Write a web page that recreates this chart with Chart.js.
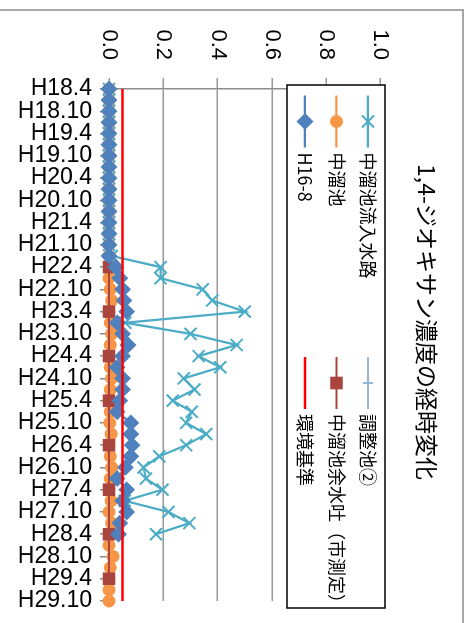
<!DOCTYPE html>
<html lang="ja">

<head>
    <meta charset="UTF-8">
    <title>1,4-ジオキサン濃度の経時変化</title>
    <script src="https://cdn.jsdelivr.net/npm/chart.js@4.4.0/dist/chart.umd.min.js"></script>
    <style>
        html,
        body {
            margin: 0;
            padding: 0;
            background: #fff;
            overflow: hidden;
        }

        /* the chart is drawn upright and then turned a quarter clockwise */
        #wrap {
            position: absolute;
            left: 0;
            top: 0;
            width: 623px;
            height: 472px;
            transform-origin: 0 0;
            transform: translate(472px, 0) rotate(90deg);
        }
    </style>
</head>

<body>
    <div id="wrap"><canvas id="chart" width="623" height="472"></canvas></div>
    <script>

        const titleText = "1,4-ジオキサン濃度の経時変化"

        const labels = [
            "H18.4", "H18.7", "H18.10", "H19.1", "H19.4", "H19.7", "H19.10", "H20.1",
            "H20.4", "H20.7", "H20.10", "H21.1", "H21.4", "H21.7", "H21.10", "H22.1",
            "H22.4", "H22.7", "H22.10", "H23.1", "H23.4", "H23.7", "H23.10", "H24.1",
            "H24.4", "H24.7", "H24.10", "H25.1", "H25.4", "H25.7", "H25.10", "H26.1",
            "H26.4", "H26.7", "H26.10", "H27.1", "H27.4", "H27.7", "H27.10", "H28.1",
            "H28.4", "H28.7", "H28.10", "H29.1", "H29.4", "H29.7", "H29.10"
        ]

        const yTicks = [0, 0.2, 0.4, 0.6, 0.8, 1.0]

        const seriesNames = ["中溜池流入水路", "調整池②", "中溜池", "中溜池余水吐（市測定）", "H16-8", "環境基準"]

        // 中溜池流入水路
        const inflow = [
            0, 0, 0, 0, 0, 0, 0, 0, 0, 0, 0, 0, 0, 0, 0, 0.01,
            0.19, 0.19, 0.345, 0.38, 0.50, 0.06, 0.30, 0.47,
            0.33, 0.41, 0.275, 0.315, 0.235, 0.305, 0.284, 0.358,
            0.284, 0.185, 0.127, 0.136, 0.197, 0.058, 0.219, 0.296,
            0.173, null, null, null, null, null, null
        ]

        // 調整池②
        const pond2 = [
            0, 0, 0, 0, 0, 0, 0, 0, 0, 0, 0, 0, 0, 0, 0, null,
            null, null, null, null, null, null, null, null,
            null, null, null, null, null, null, null, null,
            null, null, null, null, null, null, null, null,
            null, null, null, null, null, null, null
        ]

        // 中溜池
        const pond = [
            0, 0, 0, 0, 0, 0, 0, 0, 0, 0, 0, 0, 0, 0, 0, 0,
            0.003, 0, 0.005, 0.01, 0, 0.005, 0.01, 0.005,
            0, 0.005, 0.01, 0.005, 0, 0.005, 0.003, 0.008,
            0, 0.005, 0.01, 0.005, 0, 0.008, 0, 0.01,
            0, 0, 0.015, 0.005, 0, 0, 0
        ]

        // 中溜池余水吐（市測定）
        const spillway = [
            null, null, null, null, null, null, null, null, null, null, null, null, null, null, null, null,
            0, null, null, null, 0, null, null, null,
            0, null, null, null, 0, null, null, null,
            0, null, null, null, 0, null, null, null,
            0, null, null, null, 0, null, null
        ]

        // H16-8
        const well = [
            0, 0, 0, 0, 0, 0, 0, 0, 0, 0, 0, 0, 0, 0, 0, 0,
            0.025, 0.04, 0.05, 0.055, 0.065, 0.03, 0.05, 0.07,
            0.05, 0.03, 0.05, 0.05, 0.04, 0.03, 0.08, 0.08,
            0.085, 0.08, 0.06, 0.03, 0.065, 0.05, 0.065, 0.04,
            0.035, null, null, null, null, null, null
        ]

        // 環境基準
        const standard = labels.map(() => 0.05)

        const gridGray = '#999999'
        const axisGray = '#8c8c8c'

        function series(k, data, color, style, radius, width) {
            return {
                label: seriesNames[k],
                data: data,
                borderColor: color,
                backgroundColor: color,
                pointBackgroundColor: color,
                pointBorderColor: color,
                pointStyle: style,
                pointRadius: radius,
                pointBorderWidth: 2,
                borderWidth: width,
                spanGaps: true,
                tension: 0,
                clip: false,
                order: 6 - k
            }
        }

        const datasets = [
            series(0, inflow, '#4bacc6', 'crossRot', 8.5, 2.25),
            series(1, pond2, '#95b3d7', 'cross', 5, 2),
            series(2, pond, '#f79646', 'circle', 5.5, 2.25),
            series(3, spillway, '#a9443f', 'rect', 7.5, 2),
            series(4, well, '#4f81bd', 'rectRot', 7, 2.25),
            series(5, standard, '#ff0000', false, 0, 2.5)
        ]

        // border, title and the boxed two-column legend
        const decor = {
            id: 'decor',
            beforeDraw(chart) {
                const ctx = chart.ctx
                ctx.save()
                ctx.strokeStyle = axisGray
                ctx.lineWidth = 1.5
                ctx.beginPath()
                ctx.moveTo(10, 472)
                ctx.lineTo(10, 9)
                ctx.lineTo(623, 9)
                ctx.stroke()
                ctx.restore()
            },
            afterDraw(chart) {
                const ctx = chart.ctx
                ctx.save()

                ctx.fillStyle = '#000'
                ctx.font = '23px "Noto Sans CJK JP"'
                ctx.textAlign = 'left'
                ctx.textBaseline = 'middle'
                ctx.fillText(titleText, 164, 45)

                ctx.fillStyle = '#fff'
                ctx.fillRect(85, 87, 523, 98)
                ctx.strokeStyle = '#000'
                ctx.lineWidth = 1.5
                ctx.strokeRect(85, 87, 523, 98)

                const colX = [121.5, 383]
                const rowY = [104, 135.5, 167]
                chart.data.datasets.forEach((ds, k) => {
                    const x = colX[k % 2]
                    const y = rowY[Math.floor(k / 2)]
                    ctx.strokeStyle = ds.borderColor
                    ctx.fillStyle = ds.backgroundColor
                    ctx.lineWidth = ds.borderWidth
                    ctx.beginPath()
                    ctx.moveTo(x - 26, y)
                    ctx.lineTo(x + 26, y)
                    ctx.stroke()
                    if (ds.pointStyle) {
                        ctx.lineWidth = ds.pointBorderWidth
                        Chart.helpers.drawPoint(ctx, {
                            pointStyle: ds.pointStyle,
                            radius: ds.pointRadius,
                            rotation: 0,
                            borderWidth: ds.pointBorderWidth
                        }, x, y)
                    }
                    ctx.fillStyle = '#000'
                    ctx.font = '18px "Noto Sans CJK JP"'
                    ctx.textAlign = 'left'
                    ctx.textBaseline = 'middle'
                    ctx.fillText(ds.label, x + 31, y)
                })
                ctx.restore()
            }
        }

        new Chart(document.getElementById('chart').getContext('2d'), {
            type: 'line',
            data: {
                labels: labels,
                datasets: datasets
            },
            options: {
                responsive: false,
                animation: false,
                devicePixelRatio: 1,
                layout: {
                    padding: { left: 0, right: 22, top: 91.5, bottom: 0 }
                },
                plugins: {
                    legend: { display: false },
                    title: { display: false },
                    tooltip: { enabled: false }
                },
                scales: {
                    x: {
                        type: 'category',
                        offset: false,
                        grid: {
                            drawOnChartArea: false,
                            tickLength: 9,
                            lineWidth: 1.5,
                            color: (c) => c.index % 2 === 0 ? axisGray : 'rgba(0,0,0,0)'
                        },
                        border: { color: axisGray, width: 1.5 },
                        ticks: {
                            autoSkip: false,
                            minRotation: 90,
                            maxRotation: 90,
                            padding: 8,
                            color: '#000',
                            font: { family: 'Liberation Sans', size: 23 },
                            callback: function (v, i) {
                                return i % 2 === 0 ? this.getLabelForValue(v) : ''
                            }
                        },
                        afterFit: (s) => {
                            s.height = 109
                            s.paddingLeft = 0
                            s.paddingRight = 0
                        }
                    },
                    y: {
                        min: yTicks[0],
                        max: yTicks[yTicks.length - 1],
                        afterBuildTicks: (s) => { s.ticks = yTicks.map(v => ({ value: v })) },
                        grid: { color: gridGray, lineWidth: 1.5, tickLength: 11 },
                        border: { color: axisGray, width: 1.5 },
                        ticks: {
                            padding: 18,
                            color: '#000',
                            font: { family: 'Liberation Sans', size: 22 },
                            callback: (v) => Number(v).toFixed(1)
                        },
                        afterFit: (s) => {
                            s.width = 89
                            s.paddingTop = 0
                            s.paddingBottom = 0
                        }
                    }
                }
            },
            plugins: [decor]
        });

    </script>
</body>

</html>
